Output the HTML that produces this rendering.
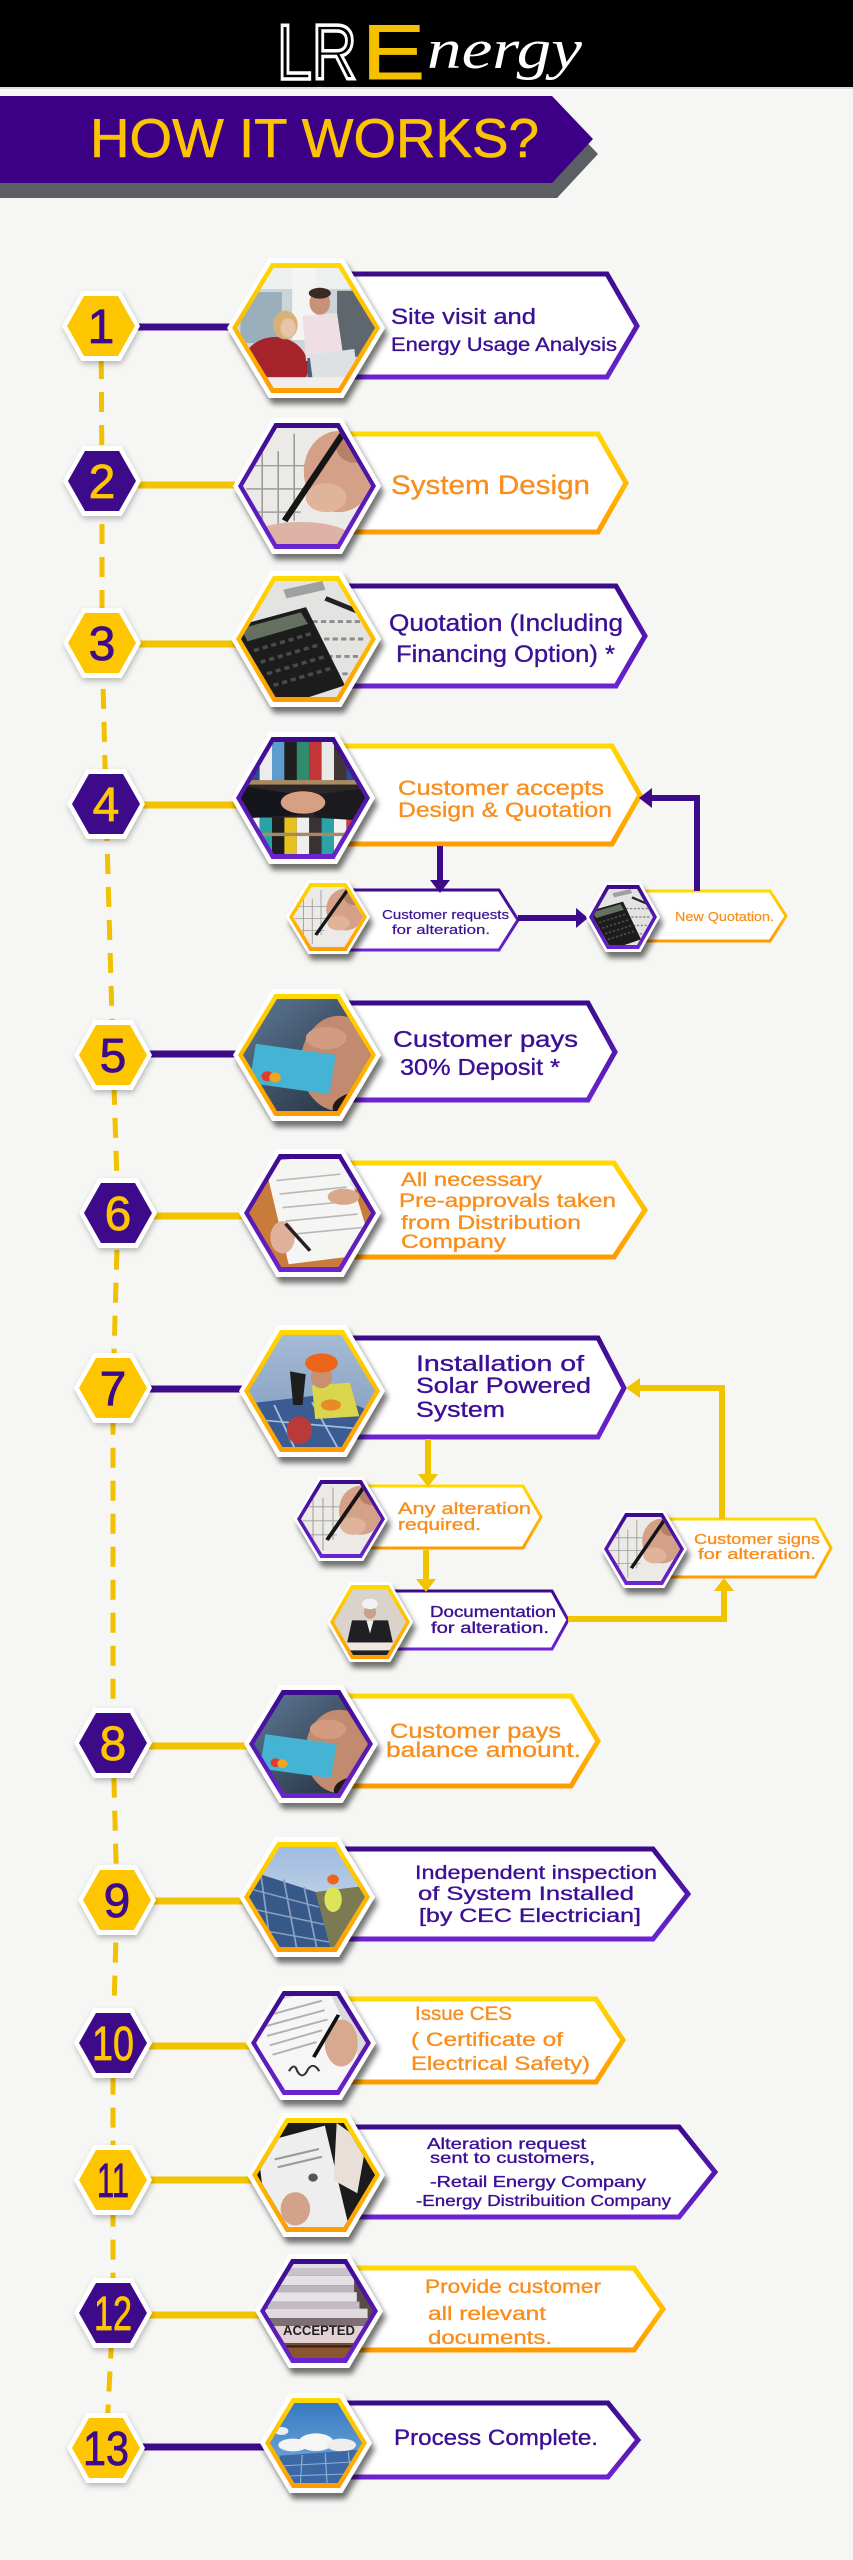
<!DOCTYPE html>
<html><head><meta charset="utf-8"><style>
html,body{margin:0;padding:0;background:#f6f6f4}
svg{display:block}
text{font-family:"Liberation Sans",Arial,sans-serif}
.p{fill:#3c0f94;stroke:#3c0f94;stroke-width:0.35}
.o{fill:#f98e1d;stroke:#f98e1d;stroke-width:0.35}
</style></head><body>
<svg width="853" height="2560" viewBox="0 0 853 2560" xmlns="http://www.w3.org/2000/svg" xmlns:xlink="http://www.w3.org/1999/xlink">
<defs>
<polygon id="hx" points="-1,0 -0.47,-1 0.47,-1 1,0 0.47,1 -0.47,1"/>
<polygon id="nh" points="-1,0 -0.5,-1 0.5,-1 1,0 0.5,1 -0.5,1"/>
<clipPath id="hc"><polygon points="-1,0 -0.47,-1 0.47,-1 1,0 0.47,1 -0.47,1"/></clipPath>
<linearGradient id="gy" x1="0" y1="0" x2="0" y2="1"><stop offset="0" stop-color="#ffd900"/><stop offset="1" stop-color="#ff9c00"/></linearGradient>
<linearGradient id="gp" x1="0" y1="0" x2="0" y2="1"><stop offset="0" stop-color="#3b0b8c"/><stop offset="1" stop-color="#6b24cf"/></linearGradient>
<linearGradient id="gcard" x1="0" y1="0" x2="1" y2="1"><stop offset="0" stop-color="#64819f"/><stop offset="1" stop-color="#1a2430"/></linearGradient>
<linearGradient id="gsk1" x1="0" y1="0" x2="0" y2="1"><stop offset="0" stop-color="#a8bed8"/><stop offset="1" stop-color="#7d96b9"/></linearGradient>
<linearGradient id="gsk2" x1="0" y1="0" x2="0" y2="1"><stop offset="0" stop-color="#9ab8de"/><stop offset="1" stop-color="#dbe3ec"/></linearGradient>
<linearGradient id="gsk3" x1="0" y1="0" x2="0" y2="1"><stop offset="0" stop-color="#2f74c0"/><stop offset="1" stop-color="#86b6de"/></linearGradient>
<filter id="ds" x="-20%" y="-20%" width="145%" height="150%"><feDropShadow dx="3" dy="6" stdDeviation="3" flood-color="#000" flood-opacity="0.55"/></filter>
<filter id="ds2" x="-25%" y="-25%" width="150%" height="160%"><feDropShadow dx="1" dy="3" stdDeviation="3" flood-color="#000" flood-opacity="0.25"/></filter>

<g id="pOffice">
<rect x="-1.2" y="-1.2" width="2.4" height="2.4" fill="#cdd4d8"/>
<rect x="-1.2" y="-1.2" width="2.4" height="0.55" fill="#eef0ef"/>
<rect x="-0.95" y="-0.6" width="0.6" height="0.85" fill="#9aaebb"/>
<rect x="-0.2" y="-1.2" width="0.35" height="1.4" fill="#f4f4f2"/>
<rect x="0.45" y="-0.62" width="0.8" height="1.1" fill="#5d676d"/>
<ellipse cx="-0.45" cy="0.65" rx="0.48" ry="0.5" fill="#a5242b"/>
<ellipse cx="-0.3" cy="-0.05" rx="0.18" ry="0.24" fill="#d8b07a"/>
<ellipse cx="-0.26" cy="0" rx="0.11" ry="0.16" fill="#e9c4a8"/>
<path d="M-0.05,-0.2L0.45,-0.25L0.55,0.55L0,0.55Z" fill="#efdfe4"/>
<ellipse cx="0.2" cy="-0.42" rx="0.15" ry="0.2" fill="#c8917a"/>
<ellipse cx="0.2" cy="-0.58" rx="0.16" ry="0.09" fill="#3b2a22"/>
<rect x="0.02" y="0.5" width="0.42" height="0.35" fill="#4d5d7b"/>
<path d="M0.05,0.45L0.7,0.35L0.75,0.8L0.1,0.88Z" fill="#dde1e4"/>
<rect x="-1.2" y="0.82" width="2.4" height="0.4" fill="#f1efed"/>
</g>

<g id="pHand">
<rect x="-1.2" y="-1.2" width="2.4" height="2.4" fill="#eceae6"/>
<path d="M-0.95,-0.35H0.1M-0.95,0.05H0.05M-0.95,0.45H-0.1M-0.7,-0.8V0.8M-0.45,-0.6V0.9M-0.2,-0.9V0.6" stroke="#9c9c9c" stroke-width="0.025" fill="none"/>
<ellipse cx="0.5" cy="-0.25" rx="0.55" ry="0.7" fill="#d4a088"/>
<ellipse cx="0.3" cy="0.2" rx="0.32" ry="0.25" fill="#e0b39b"/>
<ellipse cx="0.75" cy="-0.7" rx="0.3" ry="0.3" fill="#b98068"/>
<path d="M0.65,-1.05L-0.35,0.6" stroke="#151515" stroke-width="0.1"/>
</g>

<g id="pCalc">
<rect x="-1.2" y="-1.2" width="2.4" height="2.4" fill="#e3e3e1"/>
<path d="M0.1,-0.3H0.9M0.15,0H0.9M0.2,0.3H0.85M0.3,0.6H0.9" stroke="#8c8c8c" stroke-width="0.05" stroke-dasharray="0.08 0.05"/>
<path d="M-0.35,-0.85L0.25,-1L0.3,-0.85L-0.3,-0.7Z" fill="#a0a0a0"/>
<path d="M0.3,-0.7L0.85,-0.45" stroke="#222" stroke-width="0.08"/>
<path d="M-1.15,-0.2L0,-0.55L0.6,0.8L-0.5,1.2Z" fill="#1c1c1c"/>
<path d="M-1,-0.18L-0.08,-0.46L0.03,-0.26L-0.9,0.04Z" fill="#657060"/>
<path d="M-0.8,0.2L0.1,-0.1M-0.7,0.4L0.2,0.1M-0.6,0.6L0.3,0.3M-0.5,0.8L0.4,0.5" stroke="#4a4a4a" stroke-width="0.06" stroke-dasharray="0.08 0.06"/>
</g>

<g id="pShake">
<rect x="-1.2" y="-1.2" width="2.4" height="2.4" fill="#2c2626"/>
<rect x="-1.1" y="-1.2" width="0.2" height="0.9" fill="#c8c8c8"/>
<rect x="-0.9" y="-1.2" width="0.2" height="0.9" fill="#2b4c8e"/>
<rect x="-0.7" y="-1.2" width="0.2" height="0.9" fill="#ececec"/>
<rect x="-0.5" y="-1.2" width="0.2" height="0.9" fill="#5c9ccf"/>
<rect x="-0.3" y="-1.2" width="0.2" height="0.9" fill="#1f1f1f"/>
<rect x="-0.1" y="-1.2" width="0.2" height="0.9" fill="#2e8b6b"/>
<rect x="0.1" y="-1.2" width="0.2" height="0.9" fill="#c43636"/>
<rect x="0.3" y="-1.2" width="0.2" height="0.9" fill="#e9e9e9"/>
<rect x="0.5" y="-1.2" width="0.2" height="0.9" fill="#413434"/>
<rect x="0.7" y="-1.2" width="0.2" height="0.9" fill="#2b4c8e"/>
<rect x="0.9" y="-1.2" width="0.2" height="0.9" fill="#eaeaea"/>
<rect x="-1.2" y="-0.32" width="2.4" height="0.08" fill="#a88a62"/>
<rect x="-1.1" y="0.35" width="0.2" height="0.85" fill="#e6c21f"/>
<rect x="-0.9" y="0.35" width="0.2" height="0.85" fill="#f0f0f0"/>
<rect x="-0.7" y="0.35" width="0.2" height="0.85" fill="#2aa3a8"/>
<rect x="-0.5" y="0.35" width="0.2" height="0.85" fill="#1f1f1f"/>
<rect x="-0.3" y="0.35" width="0.2" height="0.85" fill="#e6c21f"/>
<rect x="-0.1" y="0.35" width="0.2" height="0.85" fill="#eeeeee"/>
<rect x="0.1" y="0.35" width="0.2" height="0.85" fill="#3a3232"/>
<rect x="0.3" y="0.35" width="0.2" height="0.85" fill="#2aa3a8"/>
<rect x="0.5" y="0.35" width="0.2" height="0.85" fill="#f2f2f2"/>
<rect x="0.7" y="0.35" width="0.2" height="0.85" fill="#d03a3a"/>
<rect x="0.9" y="0.35" width="0.2" height="0.85" fill="#e6c21f"/>
<rect x="-1.2" y="0.62" width="2.4" height="0.06" fill="#a88a62"/>
<path d="M-1.2,-0.25L0,-0.05L0,0.3L-1.2,0.38Z" fill="#15151c"/>
<path d="M1.2,-0.2L0.1,-0.05L0.2,0.35L1.2,0.42Z" fill="#1a1a1f"/>
<ellipse cx="0" cy="0.08" rx="0.36" ry="0.2" fill="#d7a082"/>
</g>

<g id="pCard">
<rect x="-1.2" y="-1.2" width="2.4" height="2.4" fill="url(#gcard)"/>
<ellipse cx="0.5" cy="0.15" rx="0.6" ry="0.85" fill="#c28a6e"/>
<ellipse cx="0.3" cy="-0.3" rx="0.32" ry="0.2" fill="#d39c80"/>
<path d="M-0.8,-0.2L0.45,0L0.35,0.7L-0.9,0.5Z" fill="#45b3d4"/>
<circle cx="-0.62" cy="0.38" r="0.09" fill="#e23b2e"/>
<circle cx="-0.5" cy="0.4" r="0.09" fill="#f4a51f"/>
<ellipse cx="0.9" cy="0.95" rx="0.5" ry="0.3" fill="#1f1a18"/>
</g>

<g id="pDesk">
<rect x="-1.2" y="-1.2" width="2.4" height="2.4" fill="#c97b3c"/>
<path d="M-1.2,0.4L-0.3,1.2L-1.2,1.2Z" fill="#3e2a1c"/>
<path d="M-0.75,-0.95L0.55,-1.1L1.05,0.75L-0.35,0.95Z" fill="#f5f5f3"/>
<path d="M-0.55,-0.6L0.5,-0.72M-0.5,-0.35L0.6,-0.48M-0.45,-0.1L0.7,-0.22M-0.4,0.15L0.78,0.02M-0.35,0.4L0.85,0.27" stroke="#b8b8b8" stroke-width="0.03"/>
<ellipse cx="0.55" cy="-0.3" rx="0.26" ry="0.15" fill="#d9a78a"/>
<ellipse cx="0.9" cy="-0.6" rx="0.25" ry="0.2" fill="#dfe3ea"/>
<ellipse cx="-0.45" cy="0.45" rx="0.2" ry="0.3" fill="#e0b09a"/>
<path d="M-0.4,0.2L0,0.7" stroke="#222" stroke-width="0.06"/>
</g>

<g id="pWorker">
<rect x="-1.2" y="-1.2" width="2.4" height="2.4" fill="url(#gsk1)"/>
<path d="M-1.2,0.25L0.3,0.05L1.2,0.5L1.2,1.2L-1.2,1.2Z" fill="#3b5c92"/>
<path d="M-1,0.5L1,0.7M-0.6,0.25L-0.2,1.2M0,0.2L0.5,1.2" stroke="#a8bcd8" stroke-width="0.03"/>
<ellipse cx="-0.2" cy="0.7" rx="0.2" ry="0.25" fill="#b83a3a"/>
<path d="M0,-0.1L0.6,-0.15L0.75,0.45L0.05,0.5Z" fill="#d9d64c"/>
<ellipse cx="0.3" cy="0.25" rx="0.16" ry="0.1" fill="#e88a2a"/>
<ellipse cx="0.15" cy="-0.25" rx="0.17" ry="0.2" fill="#c98f6f"/>
<ellipse cx="0.15" cy="-0.5" rx="0.26" ry="0.17" fill="#ec651a"/>
<path d="M-0.35,-0.35L-0.1,-0.3L-0.15,0.25L-0.3,0.25Z" fill="#1e1e1e"/>
</g>

<g id="pSolar">
<rect x="-1.2" y="-1.2" width="2.4" height="2.4" fill="url(#gsk2)"/>
<path d="M-1.2,-0.6L0.15,-0.1L0.45,1.2L-1.2,1.2Z" fill="#37598a"/>
<path d="M-1.1,-0.2L0.2,0.2M-1.1,0.2L0.3,0.55M-1.1,0.6L0.38,0.9M-0.8,-0.5L-0.6,1.2M-0.4,-0.35L-0.15,1.2M-0.05,-0.2L0.2,1.2" stroke="#8aa0c0" stroke-width="0.03"/>
<path d="M0.15,-0.1L1.2,-0.25L1.2,1.2L0.45,1.2Z" fill="#7c7a52"/>
<ellipse cx="0.45" cy="0.05" rx="0.15" ry="0.25" fill="#dde45a"/>
<circle cx="0.45" cy="-0.35" r="0.1" fill="#ec651a"/>
</g>

<g id="pSign">
<rect x="-1.2" y="-1.2" width="2.4" height="2.4" fill="#dadadc"/>
<path d="M-1.2,-0.7L0.3,-1.2L1.2,1.2L-0.6,1.2Z" fill="#f6f6f6"/>
<path d="M-0.9,-0.55L0.2,-0.9M-0.85,-0.35L0.25,-0.7M-0.8,-0.15L0.3,-0.5M-0.75,0.05L0.2,-0.27M-0.7,0.25L0.1,-0.02" stroke="#b0b0b0" stroke-width="0.04"/>
<ellipse cx="0.55" cy="0" rx="0.3" ry="0.5" fill="#d8a98f"/>
<path d="M0.5,-0.6L0.05,0.3" stroke="#111" stroke-width="0.07"/>
<path d="M-0.4,0.6q0.1,-0.2 0.15,0q0.1,0.2 0.2,-0.05q0.1,-0.15 0.2,0.05" stroke="#333" stroke-width="0.04" fill="none"/>
</g>

<g id="pPapers">
<rect x="-1.2" y="-1.2" width="2.4" height="2.4" fill="#1b1b1d"/>
<path d="M-1,-0.6L0.15,-0.95L0.6,1.2L-0.8,1.2Z" fill="#eeeeee"/>
<path d="M0.35,-1L0.85,-0.6L0.7,0.35L0.3,0.1Z" fill="#e7dfd8"/>
<ellipse cx="-0.35" cy="0.65" rx="0.25" ry="0.32" fill="#d2a28a"/>
<circle cx="-0.05" cy="0.05" r="0.08" fill="#555"/>
<path d="M-0.7,-0.3L0.05,-0.5M-0.65,-0.15L0.1,-0.35" stroke="#999" stroke-width="0.04"/>
</g>

<g id="pStack">
<rect x="-1.2" y="-1.2" width="2.4" height="2.4" fill="#5b4a48"/>
<rect x="-0.7" y="-1.1" width="1.35" height="0.2" fill="#e0dde2"/>
<rect x="-0.75" y="-0.9" width="1.4" height="0.15" fill="#c9c2ca"/>
<rect x="-0.8" y="-0.75" width="1.45" height="0.2" fill="#e4e0e6"/>
<rect x="-0.85" y="-0.55" width="1.5" height="0.15" fill="#bdb5be"/>
<rect x="-0.9" y="-0.4" width="1.6" height="0.2" fill="#e6e3e8"/>
<rect x="-0.95" y="-0.2" width="1.7" height="0.15" fill="#c3bbc4"/>
<rect x="-1" y="-0.05" width="1.9" height="0.2" fill="#dedae0"/>
<rect x="-1.1" y="0.15" width="2.2" height="0.18" fill="#7c6e72"/>
<rect x="-0.85" y="0.32" width="1.7" height="0.36" fill="#e3d2d3"/>
<rect x="-1.2" y="0.7" width="2.4" height="0.5" fill="#8a5530"/>
<rect x="-1.2" y="0.72" width="2.4" height="0.06" fill="#3a2a22"/>
</g>

<g id="pSky">
<rect x="-1.2" y="-1.2" width="2.4" height="2.4" fill="url(#gsk3)"/>
<ellipse cx="-0.5" cy="0.05" rx="0.32" ry="0.16" fill="#f4f4f4"/>
<ellipse cx="0" cy="-0.02" rx="0.38" ry="0.22" fill="#f6f6f6"/>
<ellipse cx="0.55" cy="0.05" rx="0.32" ry="0.16" fill="#eeeeee"/>
<ellipse cx="-0.75" cy="-0.3" rx="0.15" ry="0.1" fill="#e8eef4"/>
<path d="M-1.2,0.35L1.2,0.15L1.2,1.2L-1.2,1.2Z" fill="#3d68a6"/>
<path d="M-1.2,0.6L1.2,0.45M-1.2,0.85L1.2,0.75M-0.8,0.33L-0.9,1.2M-0.3,0.3L-0.35,1.2M0.2,0.26L0.25,1.2M0.7,0.22L0.8,1.2" stroke="#8fb0d8" stroke-width="0.025"/>
</g>

<g id="pArch">
<rect x="-1.2" y="-1.2" width="2.4" height="2.4" fill="#d9d3cb"/>
<path d="M-0.75,1.2L-0.5,-0.05L0.5,-0.05L0.75,1.2Z" fill="#1f1f24"/>
<path d="M-0.1,-0.05L0.1,-0.05L0,0.35Z" fill="#f0f0f0"/>
<ellipse cx="0" cy="-0.3" rx="0.17" ry="0.2" fill="#c9a18b"/>
<ellipse cx="0" cy="-0.55" rx="0.22" ry="0.16" fill="#f2f2f2"/>
<rect x="-1.2" y="0.62" width="2.4" height="0.25" fill="#efe9e0"/>
<rect x="-1.2" y="0.86" width="2.4" height="0.06" fill="#222"/>
</g>
</defs>

<!-- background -->
<rect x="0" y="0" width="853" height="2560" fill="#f6f6f4"/>
<!-- header -->
<rect x="0" y="0" width="853" height="87" fill="#000"/>
<rect x="0" y="87" width="853" height="2" fill="#dcdcdc"/>
<text x="277" y="79" font-size="78" fill="#000" stroke="#fff" stroke-width="3.5" textLength="80" lengthAdjust="spacingAndGlyphs">LR</text>
<text x="362" y="79" font-size="78" fill="#f5c000" stroke="#f5c000" stroke-width="1" textLength="63" lengthAdjust="spacingAndGlyphs">E</text>
<text x="427" y="68" font-size="56" fill="#fff" style="font-family:'Liberation Serif',serif;font-style:italic" textLength="155" lengthAdjust="spacingAndGlyphs">nergy</text>

<!-- banner -->
<polygon points="0,111 557,111 598,154 557,198 0,198" fill="#5b5f63"/>
<polygon points="0,96 552,96 593,139 552,183 0,183" fill="#3c0087"/>
<text x="90" y="157" font-size="55" fill="#fcc400" stroke="#fcc400" stroke-width="0.6" textLength="449" lengthAdjust="spacingAndGlyphs">HOW IT WORKS?</text>

<!-- dashed timeline -->
<polyline points="101,326 102,481 102,643 106,804 113,1055 118,1213 113,1388 113,1743 117,1900 113,2043 113,2180 113,2313 106,2448" fill="none" stroke="#f1c000" stroke-width="5" stroke-dasharray="20 13"/>

<!-- connectors -->
<g stroke-width="7">
<line x1="138" y1="327" x2="235" y2="327" stroke="#3d0a8a"/>
<line x1="138" y1="485" x2="239" y2="485" stroke="#f4c300"/>
<line x1="138" y1="644" x2="237" y2="644" stroke="#f4c300"/>
<line x1="142" y1="805" x2="237" y2="805" stroke="#f4c300"/>
<line x1="149" y1="1054" x2="239" y2="1054" stroke="#3d0a8a"/>
<line x1="154" y1="1216" x2="245" y2="1216" stroke="#f4c300"/>
<line x1="149" y1="1389" x2="245" y2="1389" stroke="#3d0a8a"/>
<line x1="149" y1="1746" x2="250" y2="1746" stroke="#f4c300"/>
<line x1="153" y1="1901" x2="245" y2="1901" stroke="#f4c300"/>
<line x1="149" y1="2046" x2="252" y2="2046" stroke="#f4c300"/>
<line x1="149" y1="2180" x2="253" y2="2180" stroke="#f4c300"/>
<line x1="149" y1="2315" x2="261" y2="2315" stroke="#f4c300"/>
<line x1="142" y1="2447" x2="266" y2="2447" stroke="#3d0a8a"/>
</g>

<!-- main text boxes -->
<g fill="#fff" stroke-width="5" stroke-linejoin="miter">
<polygon points="306,274 607,274 637,326 607,377 306,377" stroke="url(#gp)"/>
<polygon points="307,434 598,434 626,483 598,532 307,532" stroke="url(#gy)"/>
<polygon points="306,586 616,586 645,636 616,686 306,686" stroke="url(#gp)"/>
<polygon points="303,746 612,746 640,795 612,844 303,844" stroke="url(#gy)"/>
<polygon points="307,1003 588,1003 615,1052 588,1100 307,1100" stroke="url(#gp)"/>
<polygon points="310,1163 614,1163 645,1210 614,1257 310,1257" stroke="url(#gy)"/>
<polygon points="312,1338 598,1338 624,1388 598,1437 312,1437" stroke="url(#gp)"/>
<polygon points="311,1696 571,1696 598,1741 571,1786 311,1786" stroke="url(#gy)"/>
<polygon points="307,1849 653,1849 688,1894 653,1939 307,1939" stroke="url(#gp)"/>
<polygon points="311,1999 596,1999 623,2040 596,2082 311,2082" stroke="url(#gy)"/>
<polygon points="316,2127 679,2127 715,2172 679,2217 316,2217" stroke="url(#gp)"/>
<polygon points="319,2268 634,2268 663,2309 634,2350 319,2350" stroke="url(#gy)"/>
<polygon points="316,2403 608,2403 638,2440 608,2477 316,2477" stroke="url(#gp)"/>
</g>
<!-- sub boxes -->
<g fill="#fff" stroke-width="3">
<polygon points="328,890 499,890 518,920 499,950 328,950" stroke="url(#gp)"/>
<polygon points="623,891 770,891 786,916 770,941 623,941" stroke="url(#gy)"/>
<polygon points="341,1486 523,1486 541,1517 523,1548 341,1548" stroke="url(#gy)"/>
<polygon points="370,1591 552,1591 568,1620 552,1649 370,1649" stroke="url(#gp)"/>
<polygon points="644,1519 815,1519 831,1548 815,1577 644,1577" stroke="url(#gy)"/>
</g>

<!-- loop connectors step 4 -->
<g stroke="#3d0a8a" stroke-width="6" fill="none">
<path d="M440,846V882"/>
<path d="M518,918H578"/>
<path d="M697,891V798H650"/>
</g>
<g fill="#3d0a8a">
<polygon points="430,880 450,880 440,893"/>
<polygon points="576,908 576,928 588,918"/>
<polygon points="652,788 652,808 639,798"/>
</g>
<!-- loop connectors step 7 -->
<g stroke="#f4c300" stroke-width="6" fill="none">
<path d="M428,1439V1476"/>
<path d="M426,1550V1581"/>
<path d="M568,1619H724V1590"/>
<path d="M722,1519V1388H638"/>
</g>
<g fill="#f4c300">
<polygon points="418,1474 438,1474 428,1487"/>
<polygon points="416,1579 436,1579 426,1592"/>
<polygon points="714,1591 734,1591 724,1578"/>
<polygon points="640,1378 640,1398 626,1388"/>
</g>

<!-- image hexes -->
<g filter="url(#ds)"><use href="#hx" transform="translate(306,328) scale(79,70)" fill="#fff"/></g>
<use href="#hx" transform="translate(306,328) scale(74,65)" fill="url(#gy)"/>
<g transform="translate(306,328) scale(69,60)"><g clip-path="url(#hc)"><use href="#pOffice"/></g></g>

<g filter="url(#ds)"><use href="#hx" transform="translate(307,486) scale(74,68)" fill="#fff"/></g>
<use href="#hx" transform="translate(307,486) scale(69,63)" fill="url(#gp)"/>
<g transform="translate(307,486) scale(64,58)"><g clip-path="url(#hc)"><use href="#pHand"/><ellipse cx="-0.1" cy="0.9" rx="0.8" ry="0.28" fill="#dcb3a4"/></g></g>

<g filter="url(#ds)"><use href="#hx" transform="translate(306,639) scale(75,68)" fill="#fff"/></g>
<use href="#hx" transform="translate(306,639) scale(70,63)" fill="url(#gy)"/>
<g transform="translate(306,639) scale(65,58)"><g clip-path="url(#hc)"><use href="#pCalc"/></g></g>

<g filter="url(#ds)"><use href="#hx" transform="translate(303,798) scale(72,66)" fill="#fff"/></g>
<use href="#hx" transform="translate(303,798) scale(67,61)" fill="url(#gp)"/>
<g transform="translate(303,798) scale(62,56)"><g clip-path="url(#hc)"><use href="#pShake"/></g></g>

<g filter="url(#ds)"><use href="#hx" transform="translate(307,1055) scale(74,66)" fill="#fff"/></g>
<use href="#hx" transform="translate(307,1055) scale(69,61)" fill="url(#gy)"/>
<g transform="translate(307,1055) scale(64,56)"><g clip-path="url(#hc)"><use href="#pCard"/></g></g>

<g filter="url(#ds)"><use href="#hx" transform="translate(310,1213) scale(71,64)" fill="#fff"/></g>
<use href="#hx" transform="translate(310,1213) scale(66,59)" fill="url(#gp)"/>
<g transform="translate(310,1213) scale(61,54)"><g clip-path="url(#hc)"><use href="#pDesk"/></g></g>

<g filter="url(#ds)"><use href="#hx" transform="translate(312,1391) scale(73,66)" fill="#fff"/></g>
<use href="#hx" transform="translate(312,1391) scale(68,61)" fill="url(#gy)"/>
<g transform="translate(312,1391) scale(63,56)"><g clip-path="url(#hc)"><use href="#pWorker"/></g></g>

<g filter="url(#ds)"><use href="#hx" transform="translate(311,1744) scale(67,59)" fill="#fff"/></g>
<use href="#hx" transform="translate(311,1744) scale(62,54)" fill="url(#gp)"/>
<g transform="translate(311,1744) scale(57,49)"><g clip-path="url(#hc)"><use href="#pCard"/></g></g>

<g filter="url(#ds)"><use href="#hx" transform="translate(307,1897) scale(68,60)" fill="#fff"/></g>
<use href="#hx" transform="translate(307,1897) scale(63,55)" fill="url(#gy)"/>
<g transform="translate(307,1897) scale(58,50)"><g clip-path="url(#hc)"><use href="#pSolar"/></g></g>

<g filter="url(#ds)"><use href="#hx" transform="translate(311,2043) scale(65,57)" fill="#fff"/></g>
<use href="#hx" transform="translate(311,2043) scale(60,52)" fill="url(#gp)"/>
<g transform="translate(311,2043) scale(55,47)"><g clip-path="url(#hc)"><use href="#pSign"/></g></g>

<g filter="url(#ds)"><use href="#hx" transform="translate(316,2175) scale(69,62)" fill="#fff"/></g>
<use href="#hx" transform="translate(316,2175) scale(64,57)" fill="url(#gy)"/>
<g transform="translate(316,2175) scale(59,52)"><g clip-path="url(#hc)"><use href="#pPapers"/></g></g>

<g filter="url(#ds)"><use href="#hx" transform="translate(319,2311) scale(64,57)" fill="#fff"/></g>
<use href="#hx" transform="translate(319,2311) scale(59,52)" fill="url(#gp)"/>
<g transform="translate(319,2311) scale(54,47)"><g clip-path="url(#hc)"><use href="#pStack"/></g></g>
<text x="283" y="2335" font-size="14" font-weight="bold" fill="#222" textLength="72" lengthAdjust="spacingAndGlyphs">ACCEPTED</text>

<g filter="url(#ds)"><use href="#hx" transform="translate(316,2443) scale(56,50)" fill="#fff"/></g>
<use href="#hx" transform="translate(316,2443) scale(51,45)" fill="url(#gy)"/>
<g transform="translate(316,2443) scale(46,40)"><g clip-path="url(#hc)"><use href="#pSky"/></g></g>

<!-- sub hexes -->
<g filter="url(#ds)"><use href="#hx" transform="translate(328,917) scale(42,37)" fill="#fff"/></g>
<use href="#hx" transform="translate(328,917) scale(39,34)" fill="url(#gy)"/>
<g transform="translate(328,917) scale(35,30)"><g clip-path="url(#hc)"><use href="#pHand"/></g></g>

<g filter="url(#ds)"><use href="#hx" transform="translate(623,917) scale(37,35)" fill="#fff"/></g>
<use href="#hx" transform="translate(623,917) scale(34,32)" fill="url(#gp)"/>
<g transform="translate(623,917) scale(30,28)"><g clip-path="url(#hc)"><use href="#pCalc"/></g></g>

<g filter="url(#ds)"><use href="#hx" transform="translate(341,1519) scale(47,42)" fill="#fff"/></g>
<use href="#hx" transform="translate(341,1519) scale(44,39)" fill="url(#gp)"/>
<g transform="translate(341,1519) scale(40,35)"><g clip-path="url(#hc)"><use href="#pHand"/></g></g>

<g filter="url(#ds)"><use href="#hx" transform="translate(370,1622) scale(43,40)" fill="#fff"/></g>
<use href="#hx" transform="translate(370,1622) scale(40,37)" fill="url(#gy)"/>
<g transform="translate(370,1622) scale(36,33)"><g clip-path="url(#hc)"><use href="#pArch"/></g></g>

<g filter="url(#ds)"><use href="#hx" transform="translate(644,1549) scale(43,39)" fill="#fff"/></g>
<use href="#hx" transform="translate(644,1549) scale(40,36)" fill="url(#gp)"/>
<g transform="translate(644,1549) scale(36,32)"><g clip-path="url(#hc)"><use href="#pHand"/></g></g>

<!-- number hexes -->
<g filter="url(#ds2)">
<use href="#nh" transform="translate(101,326) scale(39,35)" fill="#fff"/>
<use href="#nh" transform="translate(102,481) scale(39,35)" fill="#fff"/>
<use href="#nh" transform="translate(102,643) scale(39,35)" fill="#fff"/>
<use href="#nh" transform="translate(106,804) scale(39,35)" fill="#fff"/>
<use href="#nh" transform="translate(113,1055) scale(39,35)" fill="#fff"/>
<use href="#nh" transform="translate(118,1213) scale(39,35)" fill="#fff"/>
<use href="#nh" transform="translate(113,1388) scale(39,35)" fill="#fff"/>
<use href="#nh" transform="translate(113,1743) scale(39,35)" fill="#fff"/>
<use href="#nh" transform="translate(117,1900) scale(39,35)" fill="#fff"/>
<use href="#nh" transform="translate(113,2043) scale(39,35)" fill="#fff"/>
<use href="#nh" transform="translate(113,2180) scale(39,35)" fill="#fff"/>
<use href="#nh" transform="translate(113,2313) scale(39,35)" fill="#fff"/>
<use href="#nh" transform="translate(106,2448) scale(39,35)" fill="#fff"/>
</g>
<use href="#nh" transform="translate(101,326) scale(34,30)" fill="#fdc600"/>
<use href="#nh" transform="translate(102,481) scale(34,30)" fill="#3d0a8a"/>
<use href="#nh" transform="translate(102,643) scale(34,30)" fill="#fdc600"/>
<use href="#nh" transform="translate(106,804) scale(34,30)" fill="#3d0a8a"/>
<use href="#nh" transform="translate(113,1055) scale(34,30)" fill="#fdc600"/>
<use href="#nh" transform="translate(118,1213) scale(34,30)" fill="#3d0a8a"/>
<use href="#nh" transform="translate(113,1388) scale(34,30)" fill="#fdc600"/>
<use href="#nh" transform="translate(113,1743) scale(34,30)" fill="#3d0a8a"/>
<use href="#nh" transform="translate(117,1900) scale(34,30)" fill="#fdc600"/>
<use href="#nh" transform="translate(113,2043) scale(34,30)" fill="#3d0a8a"/>
<use href="#nh" transform="translate(113,2180) scale(34,30)" fill="#fdc600"/>
<use href="#nh" transform="translate(113,2313) scale(34,30)" fill="#3d0a8a"/>
<use href="#nh" transform="translate(106,2448) scale(34,30)" fill="#fdc600"/>

<g font-size="48" text-anchor="middle" stroke-width="0.8">
<text x="101" y="343" fill="#3d0a8a" stroke="#3d0a8a">1</text>
<text x="102" y="498" fill="#fdc600" stroke="#fdc600">2</text>
<text x="102" y="660" fill="#3d0a8a" stroke="#3d0a8a">3</text>
<text x="106" y="821" fill="#fdc600" stroke="#fdc600">4</text>
<text x="113" y="1072" fill="#3d0a8a" stroke="#3d0a8a">5</text>
<text x="118" y="1230" fill="#fdc600" stroke="#fdc600">6</text>
<text x="113" y="1405" fill="#3d0a8a" stroke="#3d0a8a">7</text>
<text x="113" y="1760" fill="#fdc600" stroke="#fdc600">8</text>
<text x="117" y="1917" fill="#3d0a8a" stroke="#3d0a8a">9</text>
<text x="113" y="2060" fill="#fdc600" stroke="#fdc600" textLength="42" lengthAdjust="spacingAndGlyphs">10</text>
<text x="113" y="2197" fill="#3d0a8a" stroke="#3d0a8a" textLength="32" lengthAdjust="spacingAndGlyphs">11</text>
<text x="113" y="2330" fill="#fdc600" stroke="#fdc600" textLength="38" lengthAdjust="spacingAndGlyphs">12</text>
<text x="106" y="2465" fill="#3d0a8a" stroke="#3d0a8a" textLength="46" lengthAdjust="spacingAndGlyphs">13</text>
</g>

<!-- box texts -->
<text class="p" x="391" y="324" font-size="22" textLength="145" lengthAdjust="spacingAndGlyphs">Site visit and</text>
<text class="p" x="391" y="351" font-size="19" textLength="226" lengthAdjust="spacingAndGlyphs">Energy Usage Analysis</text>

<text class="o" x="391" y="494" font-size="27" textLength="199" lengthAdjust="spacingAndGlyphs">System Design</text>

<text class="p" x="389" y="631" font-size="24" textLength="234" lengthAdjust="spacingAndGlyphs">Quotation (Including</text>
<text class="p" x="396" y="662" font-size="24" textLength="219" lengthAdjust="spacingAndGlyphs">Financing Option) *</text>

<text class="o" x="398" y="795" font-size="21" textLength="206" lengthAdjust="spacingAndGlyphs">Customer accepts</text>
<text class="o" x="398" y="817" font-size="21" textLength="214" lengthAdjust="spacingAndGlyphs">Design &amp; Quotation</text>

<text class="p" x="382" y="919" font-size="13" textLength="127" lengthAdjust="spacingAndGlyphs" style="stroke-width:0.2">Customer requests</text>
<text class="p" x="392" y="934" font-size="13" textLength="98" lengthAdjust="spacingAndGlyphs" style="stroke-width:0.2">for alteration.</text>
<text class="o" x="675" y="921" font-size="13" textLength="99" lengthAdjust="spacingAndGlyphs" style="stroke-width:0.2">New Quotation.</text>

<text class="p" x="393" y="1047" font-size="23" textLength="185" lengthAdjust="spacingAndGlyphs">Customer pays</text>
<text class="p" x="400" y="1075" font-size="23" textLength="160" lengthAdjust="spacingAndGlyphs">30% Deposit *</text>

<text class="o" x="401" y="1186" font-size="19" textLength="141" lengthAdjust="spacingAndGlyphs">All necessary</text>
<text class="o" x="399" y="1207" font-size="19" textLength="217" lengthAdjust="spacingAndGlyphs">Pre-approvals taken</text>
<text class="o" x="401" y="1229" font-size="19" textLength="180" lengthAdjust="spacingAndGlyphs">from Distribution</text>
<text class="o" x="401" y="1248" font-size="19" textLength="105" lengthAdjust="spacingAndGlyphs">Company</text>

<text class="p" x="416" y="1371" font-size="22" textLength="168" lengthAdjust="spacingAndGlyphs">Installation of</text>
<text class="p" x="416" y="1393" font-size="22" textLength="175" lengthAdjust="spacingAndGlyphs">Solar Powered</text>
<text class="p" x="416" y="1417" font-size="22" textLength="89" lengthAdjust="spacingAndGlyphs">System</text>

<text class="o" x="398" y="1514" font-size="17" textLength="133" lengthAdjust="spacingAndGlyphs">Any alteration</text>
<text class="o" x="398" y="1530" font-size="17" textLength="83" lengthAdjust="spacingAndGlyphs">required.</text>
<text class="p" x="430" y="1617" font-size="16" textLength="126" lengthAdjust="spacingAndGlyphs">Documentation</text>
<text class="p" x="431" y="1633" font-size="16" textLength="118" lengthAdjust="spacingAndGlyphs">for alteration.</text>
<text class="o" x="694" y="1544" font-size="15" textLength="126" lengthAdjust="spacingAndGlyphs">Customer signs</text>
<text class="o" x="698" y="1559" font-size="15" textLength="118" lengthAdjust="spacingAndGlyphs">for alteration.</text>

<text class="o" x="390" y="1738" font-size="21" textLength="171" lengthAdjust="spacingAndGlyphs">Customer pays</text>
<text class="o" x="386" y="1757" font-size="21" textLength="195" lengthAdjust="spacingAndGlyphs">balance amount.</text>

<text class="p" x="415" y="1879" font-size="19" textLength="242" lengthAdjust="spacingAndGlyphs">Independent inspection</text>
<text class="p" x="418" y="1900" font-size="19" textLength="216" lengthAdjust="spacingAndGlyphs">of System Installed</text>
<text class="p" x="419" y="1922" font-size="19" textLength="222" lengthAdjust="spacingAndGlyphs">[by CEC Electrician]</text>

<text class="o" x="415" y="2020" font-size="19" textLength="97" lengthAdjust="spacingAndGlyphs">Issue CES</text>
<text class="o" x="411" y="2046" font-size="19" textLength="152" lengthAdjust="spacingAndGlyphs">( Certificate of</text>
<text class="o" x="411" y="2070" font-size="19" textLength="179" lengthAdjust="spacingAndGlyphs">Electrical Safety)</text>

<text class="p" x="427" y="2149" font-size="16" textLength="159" lengthAdjust="spacingAndGlyphs">Alteration request</text>
<text class="p" x="430" y="2163" font-size="16" textLength="165" lengthAdjust="spacingAndGlyphs">sent to customers,</text>
<text class="p" x="430" y="2187" font-size="16" textLength="216" lengthAdjust="spacingAndGlyphs">-Retail Energy Company</text>
<text class="p" x="416" y="2206" font-size="16" textLength="255" lengthAdjust="spacingAndGlyphs">-Energy Distribuition Company</text>

<text class="o" x="425" y="2293" font-size="19" textLength="176" lengthAdjust="spacingAndGlyphs">Provide customer</text>
<text class="o" x="428" y="2320" font-size="19" textLength="118" lengthAdjust="spacingAndGlyphs">all relevant</text>
<text class="o" x="428" y="2344" font-size="19" textLength="124" lengthAdjust="spacingAndGlyphs">documents.</text>

<text class="p" x="394" y="2445" font-size="22" textLength="204" lengthAdjust="spacingAndGlyphs">Process Complete.</text>
</svg>
</body></html>
